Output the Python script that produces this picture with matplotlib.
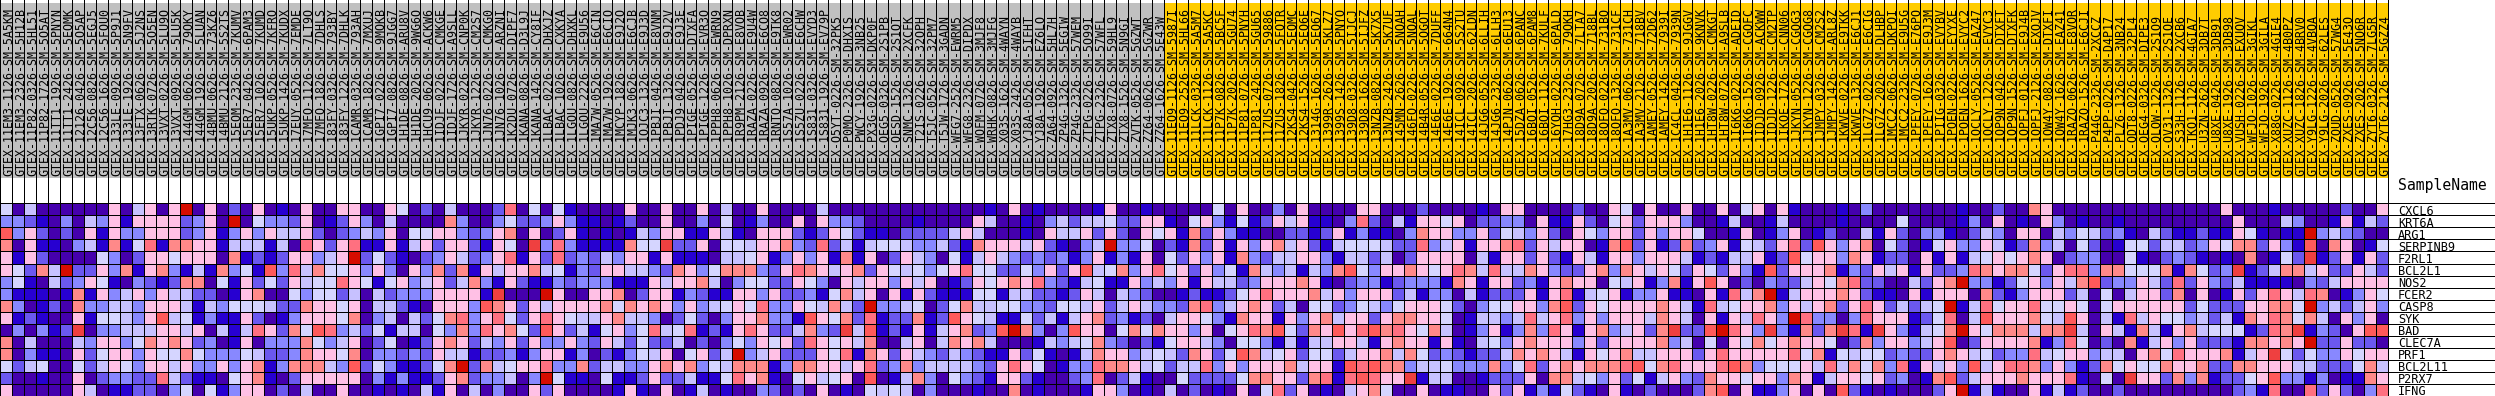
import matplotlib
matplotlib.use("Agg")
import matplotlib.pyplot as plt
from matplotlib.colors import ListedColormap
import numpy as np

# sample names, normal group first and then the tumour-like group
gray_samples = [
    "GTEX-11EM3-1126-SM-5A5KM", "GTEX-11EM3-2326-SM-5H12B", "GTEX-11P82-0326-SM-5HL51", "GTEX-11P82-1726-SM-5O5AT",
    "GTEX-11TT1-1926-SM-5PNYN", "GTEX-11TT1-2426-SM-5EQMK", "GTEX-12126-0426-SM-5O5AP", "GTEX-12C56-0826-SM-5EGJ5",
    "GTEX-12C56-1626-SM-5FQU0", "GTEX-133LE-0926-SM-5P9J1", "GTEX-133LE-1926-SM-5N9FV", "GTEX-13FTX-0626-SM-5J2NS",
    "GTEX-13RTK-0726-SM-5O5EN", "GTEX-13VXT-0226-SM-5LU9O", "GTEX-13VXT-0926-SM-5LU5K", "GTEX-144GM-0626-SM-79OKY",
    "GTEX-144GM-1926-SM-5LUAN", "GTEX-14BMU-0626-SM-73KZ6", "GTEX-14BMU-2126-SM-5S2TS", "GTEX-15EOM-2326-SM-7KUMV",
    "GTEX-15ER7-0426-SM-6PAM3", "GTEX-15ER7-1026-SM-7KUMD", "GTEX-15UKP-0526-SM-7KFRO", "GTEX-15UKP-1426-SM-7KUDX",
    "GTEX-17EUY-0526-SM-7EMDE", "GTEX-17MFQ-1126-SM-7LT9O", "GTEX-17MFQ-1826-SM-7DHLS", "GTEX-183FY-0326-SM-793BY",
    "GTEX-183FY-1226-SM-7DHLK", "GTEX-1CAMR-0326-SM-793AH", "GTEX-1CAMR-1826-SM-7MXUJ", "GTEX-1GPI7-0226-SM-9MQKB",
    "GTEX-1GPI7-0826-SM-9JGG7", "GTEX-1H1DE-0826-SM-ARU8V", "GTEX-1H1DE-2026-SM-9WG6O", "GTEX-1HCU9-0626-SM-ACKW6",
    "GTEX-1IDJF-0226-SM-CMKGE", "GTEX-1IDJF-1726-SM-A9SLL", "GTEX-1JKYR-0226-SM-CNP0K", "GTEX-1JKYR-1226-SM-CM2S7",
    "GTEX-1JN76-0226-SM-CMKG0", "GTEX-1JN76-1026-SM-ARZNI", "GTEX-1K2DU-0726-SM-DIPF7", "GTEX-1KANA-0826-SM-D3L9J",
    "GTEX-1KANA-1426-SM-CY8IF", "GTEX-1LBAC-0226-SM-DHXJZ", "GTEX-1LBAC-1026-SM-CXKYA", "GTEX-1LGOU-0826-SM-DHXKL",
    "GTEX-1LGOU-2226-SM-E9U56", "GTEX-1MA7W-0526-SM-E6CIN", "GTEX-1MA7W-1926-SM-E6CIO", "GTEX-1MCYP-1826-SM-E9J2O",
    "GTEX-1MJK3-0626-SM-E6CJB", "GTEX-1OJC3-1326-SM-E9J3D", "GTEX-1PBJI-0426-SM-E8VNM", "GTEX-1PBJI-1326-SM-E9J2V",
    "GTEX-1PDJ9-0426-SM-E9J3E", "GTEX-1PIGE-0526-SM-DTXFA", "GTEX-1PIGE-1226-SM-EVR3O", "GTEX-1PPH8-0626-SM-EWRN9",
    "GTEX-1PPH8-1026-SM-DPRXN", "GTEX-1R9PM-2126-SM-E8VOB", "GTEX-1RAZA-0226-SM-E9U4W", "GTEX-1RAZA-0926-SM-E6CO8",
    "GTEX-1RNTQ-0826-SM-E9TK8", "GTEX-1S57A-1026-SM-EWR02", "GTEX-1S5ZU-0226-SM-E6CHW", "GTEX-1S831-0326-SM-EVYD3",
    "GTEX-1S831-1926-SM-EV79P", "GTEX-O5YT-0226-SM-32PK5", "GTEX-P0MQ-2326-SM-DHXIS", "GTEX-PWCY-1926-SM-3NB25",
    "GTEX-PX3G-0226-SM-DKP0F", "GTEX-QEG5-0326-SM-2S1PB", "GTEX-QESD-1526-SM-2S1QT", "GTEX-SNMC-1326-SM-2XCFK",
    "GTEX-T2IS-0226-SM-32OPH", "GTEX-T5JC-0526-SM-32PM7", "GTEX-T5JW-1726-SM-3GADN", "GTEX-WFG7-2526-SM-EWRM5",
    "GTEX-WFG8-2326-SM-DIPDX", "GTEX-WOFM-0726-SM-3MJF8", "GTEX-WRHK-0826-SM-3MJFG", "GTEX-X03S-1626-SM-4WAYN",
    "GTEX-X03S-2426-SM-4WAYB", "GTEX-YJ8A-0526-SM-5IFHT", "GTEX-YJ8A-1926-SM-EZ6LO", "GTEX-ZA64-0926-SM-5HL7H",
    "GTEX-ZP4G-1326-SM-5EGIW", "GTEX-ZP4G-2326-SM-57WEM", "GTEX-ZTPG-0226-SM-5O99I", "GTEX-ZTPG-2326-SM-57WFL",
    "GTEX-ZTX8-0726-SM-59HL9", "GTEX-ZTX8-1526-SM-5N9GI", "GTEX-ZVTK-0526-SM-5GZWT", "GTEX-ZZ64-0626-SM-5GZWR",
    "GTEX-ZZ64-1626-SM-5E43W",
]
gold_samples = [
    "GTEX-11EQ9-1126-SM-5987I", "GTEX-11EQ9-2526-SM-5HL66", "GTEX-11LCK-0326-SM-5A5M7", "GTEX-11LCK-1126-SM-5A5KC",
    "GTEX-11P7K-0826-SM-5BC5F", "GTEX-11P7K-2026-SM-5GU74", "GTEX-11P81-0726-SM-5PNYH", "GTEX-11P81-2426-SM-5GU65",
    "GTEX-11ZUS-0726-SM-59886", "GTEX-11ZUS-1826-SM-5FQTR", "GTEX-12KS4-0426-SM-5EQMC", "GTEX-12KS4-1526-SM-5EQ6E",
    "GTEX-1314G-1626-SM-5EQ67", "GTEX-1399R-2626-SM-5KLZ7", "GTEX-1399S-1426-SM-5PNYO", "GTEX-139D8-0326-SM-5IJCJ",
    "GTEX-139D8-1626-SM-5IJFZ", "GTEX-13NZB-0826-SM-5K7X5", "GTEX-13NZB-2426-SM-5K7UF", "GTEX-145MN-2626-SM-5NQAH",
    "GTEX-146FQ-0226-SM-5NQAL", "GTEX-14B4R-0526-SM-5QGOT", "GTEX-14E6E-0226-SM-7DUFF", "GTEX-14E6E-1926-SM-664N4",
    "GTEX-14ICL-0926-SM-5S2TU", "GTEX-14ICL-2026-SM-62LDN", "GTEX-14JG6-0526-SM-6LLIH", "GTEX-14JG6-2326-SM-6LLH3",
    "GTEX-14PJN-0626-SM-6EU13", "GTEX-15DZA-0626-SM-6PANC", "GTEX-16BQI-0526-SM-6PAM8", "GTEX-16BQI-1126-SM-7KULF",
    "GTEX-16YQH-0226-SM-6PALD", "GTEX-17HG3-2326-SM-79OKH", "GTEX-18D9A-0726-SM-7LTA7", "GTEX-18D9A-2026-SM-718BL",
    "GTEX-18QFQ-0226-SM-731BQ", "GTEX-18QFQ-1326-SM-731CF", "GTEX-1A3MV-0626-SM-731CH", "GTEX-1A3MV-2126-SM-718BV",
    "GTEX-1AMEY-0526-SM-72D62", "GTEX-1AMEY-1426-SM-7939I", "GTEX-1C4CL-0426-SM-7939N", "GTEX-1H1E6-1126-SM-9JGGV",
    "GTEX-1H1E6-2026-SM-9KNVK", "GTEX-1HT8W-0226-SM-CMKGT", "GTEX-1HT8W-0726-SM-A9SLB", "GTEX-1I6K6-0226-SM-ADEID",
    "GTEX-1I6K6-1526-SM-CGQFC", "GTEX-1IDJD-0926-SM-ACKWW", "GTEX-1IDJD-1226-SM-CM2TP", "GTEX-1IKOE-1726-SM-CNN06",
    "GTEX-1JKYN-0526-SM-CGQG3", "GTEX-1JKYN-1226-SM-CGQG8", "GTEX-1JMPY-0326-SM-CM2S2", "GTEX-1JMPY-1426-SM-ARL8Z",
    "GTEX-1KWVE-0226-SM-E9TKK", "GTEX-1KWVE-1326-SM-E6CJ1", "GTEX-1LG7Z-0226-SM-E6CIG", "GTEX-1LG7Z-2026-SM-DLHBP",
    "GTEX-1MCC2-0626-SM-DKPQI", "GTEX-1MCC2-2326-SM-E9U5G", "GTEX-1PFEY-0726-SM-E76PO", "GTEX-1PFEY-1626-SM-E9J3M",
    "GTEX-1PIIG-0326-SM-EVYBV", "GTEX-1POEN-0226-SM-EYYXE", "GTEX-1POEN-1626-SM-EVYC2", "GTEX-1QCLY-0526-SM-EAZ47",
    "GTEX-1QCLY-1226-SM-EVYC3", "GTEX-1QP9N-0426-SM-DTXFT", "GTEX-1QP9N-1526-SM-DTXFK", "GTEX-1QPFJ-0126-SM-E9J4B",
    "GTEX-1QPFJ-2126-SM-EXOJV", "GTEX-1QW4Y-0826-SM-DTXFI", "GTEX-1QW4Y-1626-SM-EAZ41", "GTEX-1RAZQ-0626-SM-E8VOR",
    "GTEX-1RAZQ-1526-SM-E6CJI", "GTEX-P44G-2326-SM-2XCCZ", "GTEX-P4PP-0226-SM-D4P17", "GTEX-PLZ6-1326-SM-3NB24",
    "GTEX-QDT8-0226-SM-32PL4", "GTEX-QEG4-0326-SM-DIPE3", "GTEX-QLQW-1226-SM-2S1O9", "GTEX-QV31-1326-SM-2S1QE",
    "GTEX-S33H-1126-SM-2XCB6", "GTEX-TKQ1-1126-SM-4GIA7", "GTEX-U3ZN-2626-SM-3DB7T", "GTEX-U8XE-0426-SM-3DB91",
    "GTEX-U8XE-1926-SM-3DB98", "GTEX-VUSH-0226-SM-EXUQV", "GTEX-WFJO-1026-SM-3GIKL", "GTEX-WFJO-1926-SM-3GILA",
    "GTEX-X88G-0226-SM-4GIE4", "GTEX-XUZC-1126-SM-4B0PZ", "GTEX-XUZC-1826-SM-4BRV0", "GTEX-Y9LG-1226-SM-4VBQA",
    "GTEX-Y9LG-2026-SM-62LES", "GTEX-ZQUD-0526-SM-57WG4", "GTEX-ZXES-0926-SM-5E43O", "GTEX-ZXES-2026-SM-5NQ6R",
    "GTEX-ZYT6-0326-SM-7LG5R", "GTEX-ZYT6-2126-SM-5GZZ4",
]
genes = ["CXCL6", "KRT6A", "ARG1", "SERPINB9", "F2RL1", "BCL2L1", "NOS2", "FCER2",
         "CASP8", "SYK", "BAD", "CLEC7A", "PRF1", "BCL2L11", "P2RX7", "IFNG"]

# colour level of every cell, 0 = lowest expression, 11 = highest
cxcl6 = [5,0,4,0,0,0,0,0,0,6,0,4,6,0,6,11,0,6,0,2,0,6,0,1,0,6,0,0,6,6,0,0,6,5,0,
         2,0,4,0,0,0,2,8,0,5,0,5,1,0,0,0,0,6,0,0,6,0,0,6,0,4,0,0,6,0,0,0,0,4,0,
         0,0,0,0,0,0,0,0,0,0,0,0,1,0,6,0,1,0,0,0,0,1,6,0,0,1,0,0,0,0,0,5,0,6,0,
         0,3,0,6,0,0,0,0,6,6,0,0,0,2,0,0,0,0,1,0,6,6,0,0,0,0,2,0,0,6,5,0,6,0,0,
         6,0,0,6,0,5,6,0,6,1,0,0,0,1,0,3,0,0,0,0,0,0,0,1,0,0,2,0,0,7,6,0,0,
         0,0,0,0,0,0,0,0,0,0,0,0,6,0,0,0,1,0,0,0,0,0,2,0,0,6]
krt6a = [3,3,2,1,0,3,0,4,3,6,1,6,6,6,6,2,3,6,0,11,0,5,3,3,2,6,0,1,2,6,3,0,4,0,0,
         0,0,7,3,0,0,3,5,2,2,3,6,3,1,1,0,1,2,0,0,6,0,0,3,0,5,0,1,3,0,0,6,0,6,3,
         3,2,0,0,0,0,1,0,0,0,0,6,4,0,0,1,0,3,4,2,4,4,5,2,2,6,6,1,0,5,6,3,1,5,1,
         2,6,4,6,1,1,0,3,8,2,0,4,1,6,6,5,6,0,2,2,3,3,0,6,1,1,6,2,0,5,6,2,6,6,6,
         3,0,0,1,4,0,0,1,4,0,0,0,0,1,0,0,0,0,5,0,0,0,0,1,3,0,6,0,1,0,6,3,0,
         1,0,0,1,0,0,0,0,0,0,0,0,0,6,0,0,0,4,3,0,0,1,6,1,4,2]
arg1 = [9,3,6,2,0,2,0,6,1,6,3,3,6,6,6,2,3,6,1,3,6,3,6,4,4,6,2,0,2,3,4,3,6,0,5,
        5,6,6,3,2,3,6,7,0,6,0,2,6,1,0,1,0,1,4,3,6,6,1,1,6,4,1,0,6,6,6,2,1,2,6,
        5,2,1,1,0,2,2,2,2,4,6,4,0,0,0,1,0,6,4,4,6,2,6,2,0,6,5,6,1,7,2,6,3,1,1,
        0,0,2,2,1,2,6,1,3,1,1,0,3,7,6,6,3,3,6,2,5,4,3,6,2,0,6,5,3,6,6,2,6,3,6,
        6,5,0,0,1,6,0,1,3,6,0,1,2,0,0,4,1,6,2,0,3,3,1,0,2,4,3,0,6,6,0,4,3,
        5,4,2,3,1,0,4,2,1,1,2,1,1,6,5,1,0,1,1,11,3,4,3,2,0,0]
serpinb9 = [7,0,6,1,1,0,3,4,1,7,1,5,8,1,7,7,6,6,1,4,4,4,1,4,0,8,6,2,6,8,1,1,6,1,4,
            6,2,6,6,2,1,6,5,0,10,3,8,3,1,1,1,1,7,5,5,10,2,2,6,0,5,5,4,6,6,7,3,2,8,2,
            4,1,4,5,5,4,3,3,4,2,1,7,6,6,6,4,6,2,1,0,3,4,11,3,3,5,0,2,1,7,2,6,1,6,3,
            6,7,4,6,2,1,4,5,5,5,4,2,2,8,3,4,6,1,6,6,7,8,2,6,4,6,6,0,1,7,9,2,6,1,2,
            7,2,3,6,1,5,4,2,6,8,2,9,6,3,6,7,0,5,2,0,1,5,6,3,3,6,4,1,2,7,3,4,0,
            5,2,0,1,5,5,2,4,4,2,3,6,5,7,7,2,6,3,1,9,0,7,6,0,1,5]
f2rl1 = [6,1,6,2,0,0,0,0,5,3,0,2,6,6,5,6,6,6,0,7,1,2,1,2,6,6,3,4,6,11,2,5,2,1,0,
         2,3,6,4,2,3,6,8,1,6,2,8,2,3,2,4,3,6,6,1,6,1,1,1,0,4,4,5,6,1,3,6,3,6,1,
         7,1,6,0,2,6,4,3,0,5,1,4,6,4,3,2,3,2,3,1,3,6,1,3,1,6,0,5,2,6,3,6,1,7,3,
         2,4,4,6,6,3,1,4,4,2,4,0,2,6,6,6,6,0,4,1,6,6,2,6,2,1,6,4,1,6,6,3,6,6,6,
         4,1,2,1,4,4,6,1,2,9,5,6,6,3,7,6,1,2,2,0,6,1,6,1,4,5,6,5,6,7,6,0,2,
         3,3,0,0,5,1,0,2,3,2,1,0,1,0,7,0,1,5,2,10,1,2,6,1,6,2]
bcl2l1 = [6,5,2,7,4,11,2,2,6,3,7,1,6,7,3,1,4,1,7,3,5,1,9,3,8,4,7,5,5,6,3,6,3,0,6,
          3,7,2,7,1,6,4,6,6,7,4,5,1,3,2,6,6,4,4,3,2,7,6,3,5,7,7,7,3,2,6,8,7,6,4,
          6,7,2,6,5,4,5,3,5,6,8,5,5,2,2,5,3,6,2,6,9,4,5,7,3,6,8,5,6,2,6,3,5,1,7,
          4,3,4,1,4,3,7,9,5,3,6,6,7,6,5,6,8,7,4,8,4,4,7,6,3,2,2,6,7,3,7,6,4,6,5,
          2,6,5,2,6,3,1,9,2,6,6,6,7,1,3,2,6,4,6,1,6,2,2,3,8,7,6,7,7,5,2,6,8,
          8,3,7,7,5,5,5,7,1,7,5,2,3,10,1,2,4,7,7,4,6,2,2,6,4,2]
nos2 = [3,5,1,0,4,2,3,6,5,1,0,3,2,1,2,7,7,0,5,1,6,2,5,2,6,4,5,5,8,6,5,1,5,6,3,
        4,6,2,4,7,3,1,6,2,1,1,3,2,3,3,3,1,1,1,6,4,6,6,7,4,0,3,5,5,2,2,6,5,3,0,
        6,4,6,6,3,6,4,6,0,1,2,6,5,6,7,6,8,3,2,1,4,5,1,1,6,3,4,3,6,1,6,4,4,2,3,
        6,6,6,7,6,1,0,2,3,3,1,2,3,3,3,1,7,6,1,6,6,2,3,1,6,7,6,6,0,5,4,6,1,3,7,
        1,6,9,6,0,2,0,3,2,2,4,6,5,7,8,2,2,0,0,4,2,6,7,11,3,3,1,2,5,6,3,6,4,
        7,9,2,3,3,6,4,2,8,2,6,3,2,4,1,1,1,1,0,3,2,4,6,6,6,6]
fcer2 = [3,1,1,1,0,1,7,1,6,3,4,6,3,6,4,4,2,2,0,1,6,7,0,0,5,3,5,5,2,4,0,4,2,3,3,
         3,6,6,6,6,1,10,0,0,0,11,6,0,0,6,6,7,0,2,6,6,1,3,2,1,1,6,6,3,6,2,2,3,1,5,
         7,4,6,0,6,1,6,2,1,1,1,5,5,1,4,4,2,2,1,2,6,4,0,4,3,2,0,0,1,2,1,1,2,5,6,
         8,6,6,6,7,4,6,3,6,6,6,2,4,1,3,3,0,4,1,2,2,2,6,1,6,8,1,4,5,6,1,3,3,6,1,
         1,0,6,1,8,4,7,11,1,4,6,6,6,7,6,2,1,1,0,6,1,6,6,6,0,7,2,1,3,6,6,6,2,
         4,0,5,0,4,6,6,2,7,0,6,0,1,6,2,6,8,6,4,8,7,0,1,3,6,5]
casp8 = [7,3,0,1,2,0,7,3,3,4,4,3,6,6,6,4,1,4,3,5,5,5,4,2,2,7,6,6,5,6,0,4,4,2,1,
         0,6,6,6,3,9,7,6,2,6,4,6,6,6,6,7,5,7,6,7,6,3,6,3,4,5,6,5,8,3,3,6,5,4,7,
         4,2,11,3,3,4,5,0,2,5,7,4,4,5,5,3,3,2,5,5,4,6,2,4,6,4,3,3,2,7,8,3,4,6,7,
         6,2,4,0,5,5,2,3,5,4,3,5,6,6,6,5,2,0,3,5,5,6,6,3,7,9,2,6,5,6,6,6,6,7,6,
         4,1,8,4,5,6,6,7,3,6,4,6,7,2,6,8,6,2,4,2,4,5,11,1,4,8,5,6,6,8,5,5,6,
         5,0,5,6,6,6,6,6,6,2,5,2,2,2,6,6,7,7,5,11,3,4,2,4,6,3]
syk = [6,1,2,1,0,0,6,1,5,5,4,3,6,9,4,5,1,3,1,1,6,2,0,1,3,6,6,6,5,7,0,3,4,0,4,
       2,5,7,8,3,6,8,5,2,6,8,6,5,4,4,6,7,4,4,3,0,2,5,2,0,3,6,6,7,3,3,1,9,6,5,
       7,2,8,1,2,2,7,1,2,9,6,5,4,1,1,5,2,4,1,4,6,7,2,3,1,2,0,4,6,6,5,3,1,7,6,
       6,1,6,3,6,7,4,6,6,2,6,7,7,6,6,5,0,1,4,4,3,4,8,4,6,8,3,6,3,6,6,6,4,7,6,
       4,0,6,1,6,4,8,6,3,11,8,3,3,0,3,8,6,6,6,1,2,5,8,0,4,9,6,6,6,7,5,4,9,
       6,0,4,1,8,4,6,5,5,3,4,2,4,1,7,6,8,7,5,7,4,0,6,3,6,0]
bad = [0,3,0,3,1,2,10,0,3,3,4,4,4,6,6,4,6,0,4,1,4,8,6,2,7,5,9,8,3,4,2,5,1,4,4,
       0,5,3,7,3,8,6,7,5,2,9,6,2,4,1,5,6,3,5,8,4,5,8,1,2,1,6,8,6,2,2,4,7,3,2,
       10,4,9,1,2,1,6,1,4,6,7,2,3,9,11,7,3,0,3,9,6,6,0,5,7,5,7,6,6,3,6,0,5,6,8,
       7,9,5,2,7,6,9,6,8,9,7,8,6,5,7,4,0,1,3,6,1,3,7,3,8,6,1,6,7,3,4,6,2,7,10,
       2,2,9,11,8,6,3,10,3,1,7,2,7,10,8,1,10,6,3,1,4,5,7,11,6,5,7,7,7,4,7,7,10,
       4,0,6,4,1,7,4,1,6,7,4,5,5,5,1,2,8,7,10,1,3,2,0,6,9,9]
clec7a = [7,0,4,0,0,0,4,3,6,6,3,5,7,6,7,6,2,3,0,1,6,0,3,3,3,7,5,3,4,6,0,2,5,0,1,
          2,6,7,6,2,4,3,6,2,6,3,3,6,3,2,6,4,2,5,2,2,4,0,2,0,3,5,3,6,5,6,2,8,6,5,
          6,4,7,0,0,4,6,0,4,7,6,7,4,0,0,0,1,4,3,4,5,7,3,2,0,2,1,5,6,6,4,3,0,5,5,
          3,1,4,1,4,4,6,6,4,1,6,7,6,6,1,6,1,0,4,5,3,6,7,6,6,6,3,6,2,6,6,6,6,7,3,
          4,0,5,0,6,5,7,5,6,7,6,6,5,0,2,7,3,6,6,3,4,6,9,0,2,6,6,6,6,7,1,3,8,
          5,0,2,0,7,1,4,6,3,6,2,2,2,1,7,7,6,7,6,11,2,2,6,2,2,0]
prf1 = [7,0,3,1,1,0,6,2,5,6,6,3,6,5,5,7,5,3,3,3,5,4,2,2,3,7,6,6,5,7,0,3,3,2,3,
        2,6,4,4,1,2,2,3,1,3,6,6,1,3,0,2,1,3,5,4,6,0,5,6,2,4,11,3,4,6,2,2,2,6,5,
        8,1,7,6,2,6,4,3,2,4,3,2,1,1,6,2,5,1,0,1,4,7,6,6,3,4,5,4,2,7,6,2,5,9,7,
        4,5,6,2,5,5,2,4,6,6,7,4,7,5,2,3,2,1,2,2,4,7,6,7,6,4,1,6,5,6,7,4,4,6,6,
        6,2,6,8,6,6,6,6,6,8,5,7,1,5,4,5,5,2,3,2,2,6,7,6,4,5,2,3,3,8,4,5,6,
        6,3,4,4,0,6,7,5,8,6,6,6,7,1,4,6,10,5,2,5,3,3,6,5,6,6]
bcl2l11 = [5,2,4,5,0,0,5,2,4,6,5,3,6,6,4,6,3,3,6,3,6,7,1,3,7,7,7,4,3,9,2,5,3,1,1,
           2,5,7,11,2,7,4,5,6,6,8,3,3,7,2,4,4,3,3,6,7,6,7,3,5,4,7,7,7,1,3,7,7,6,6,
           4,6,8,2,3,7,3,4,4,4,4,3,2,6,8,6,5,0,1,3,3,8,7,7,6,4,5,2,4,4,8,3,6,3,6,
           6,6,7,4,6,6,1,9,8,9,7,7,3,4,4,5,3,3,3,7,3,5,8,2,6,7,6,7,7,7,8,9,5,7,8,
           6,6,6,8,9,7,3,5,5,5,6,4,8,4,7,5,7,3,8,1,6,4,6,3,9,4,6,8,8,7,3,6,3,
           1,2,7,5,6,5,5,7,6,6,7,2,2,7,7,6,6,6,4,4,2,2,2,5,7,4]
p2rx7 = [2,0,0,1,0,0,6,0,2,3,3,2,2,8,4,2,1,1,0,5,6,7,1,0,2,6,6,6,6,6,0,3,1,3,1,
         1,2,6,7,2,3,3,4,0,3,11,5,1,1,0,5,1,1,2,6,2,2,4,1,1,5,8,6,7,1,0,5,6,4,5,
         6,0,9,0,1,4,7,3,0,5,3,2,1,6,6,2,1,0,0,2,3,8,0,2,4,1,0,0,5,2,2,2,2,5,7,
         7,6,6,2,7,8,1,8,9,8,6,6,10,1,4,4,0,0,1,2,2,2,6,0,7,7,4,5,3,6,2,5,1,4,6,
         3,2,7,6,6,5,6,6,3,7,6,1,4,6,6,5,6,2,3,0,1,7,9,2,4,6,6,6,7,6,6,6,8,
         1,0,5,0,10,6,6,2,7,3,7,1,2,2,5,6,9,3,3,1,3,0,1,1,7,6]
ifng = [6,0,0,0,0,0,6,4,0,1,1,2,2,0,3,5,0,5,1,3,6,6,0,2,0,4,0,0,6,0,0,1,0,1,0,
        4,1,6,0,4,0,3,0,0,6,2,6,0,0,0,0,1,6,1,0,6,0,1,4,0,1,0,0,3,2,0,2,0,6,0,
        1,0,5,4,5,4,0,3,0,0,0,1,0,0,7,0,1,0,0,0,1,6,6,3,0,1,0,4,0,2,0,1,0,6,0,
        5,8,2,6,0,1,0,4,6,7,5,0,0,6,0,1,1,0,0,6,2,6,1,3,1,5,2,1,0,6,1,0,2,0,0,
        0,2,7,9,0,6,1,1,3,6,0,6,0,9,2,1,0,1,0,0,0,2,6,11,1,4,1,0,0,6,1,4,1,
        2,0,0,2,0,0,0,0,0,0,0,0,0,2,3,1,8,0,0,8,2,6,2,0,3,8]

level_colors = ["#4500AD", "#2700D1", "#6B58EF", "#8888FF", "#C7C1FF", "#D5D5FF",
                "#FFC0E5", "#FF8989", "#FF7080", "#FF5A5A", "#EF4040", "#D60C00"]

rows = [cxcl6, krt6a, arg1, serpinb9, f2rl1, bcl2l1, nos2, fcer2,
        casp8, syk, bad, clec7a, prf1, bcl2l11, p2rx7, ifng]

samples = gray_samples + gold_samples
n_cols = len(samples)
n_rows = len(genes)

px = 12  # one cell is 12 pixels square
dpi = 100
fig = plt.figure(figsize=(24.95, 3.96), dpi=dpi)
ax = fig.add_axes([0, 0, 1, 1])
ax.axis("off")
# axis units are cells, the heatmap starts at pixel row 203
ax.set_xlim(-0.1 / px, (2495 - 0.1) / px)
ax.set_ylim((396 - 203.5) / px, -203.5 / px)

header_top = -200.5 / px
header_bottom = -25.5 / px
head_colors = ["#C0C0C0"] * len(gray_samples) + ["#FFCC00"] * len(gold_samples)
ax.bar(np.arange(n_cols) + 0.5, header_bottom - header_top, bottom=header_top, width=1,
       color=head_colors, linewidth=0)

cmap = ListedColormap(level_colors)
ax.pcolormesh(np.arange(n_cols + 1), np.arange(n_rows + 1), np.array(rows), cmap=cmap,
              vmin=-0.5, vmax=11.5, antialiased=False)

ax.vlines(np.arange(n_cols + 1), -204 / px, n_rows, color="black", lw=0.72, antialiased=False)
ax.hlines(np.arange(n_rows + 1), 0, 2495 / px, color="black", lw=0.72, antialiased=False)

for i, name in enumerate(samples):
    ax.text(i + 1, -27 / px, name, rotation=90, rotation_mode="anchor", ha="left", va="baseline",
            family="DejaVu Sans Mono", fontsize=8.37, color="black")

for i, gene in enumerate(genes):
    ax.text(n_cols + 10 / px, i + 0.98, gene, ha="left", va="baseline",
            family="DejaVu Sans Mono", fontsize=8.6, color="black")
ax.text(n_cols + 10 / px, -13.5 / px, "SampleName", ha="left", va="baseline",
        family="DejaVu Sans Mono", fontsize=10.65, color="black")

fig.savefig("out.png", dpi=dpi)
